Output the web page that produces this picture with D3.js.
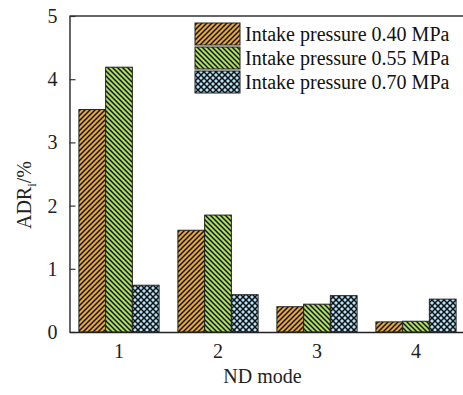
<!DOCTYPE html>
<html><head><meta charset="utf-8">
<script src="https://cdn.jsdelivr.net/npm/d3@7"></script>
<style>body{margin:0;background:#fff}svg{display:block}
svg text{font-family:"Liberation Serif","Times New Roman","DejaVu Serif",serif !important;}</style>
</head><body>
<svg id="c" width="463" height="395"></svg>
<script>
const categories = ["1","2","3","4"];
const seriesNames = ["Intake pressure 0.40 MPa","Intake pressure 0.55 MPa","Intake pressure 0.70 MPa"];
const p040 = [3.52, 1.61, 0.40, 0.16];
const p055 = [4.19, 1.85, 0.44, 0.17];
const p070 = [0.74, 0.59, 0.575, 0.52];
const yTicks = [0,1,2,3,4,5];
const seriesValues = [p040, p055, p070];

const svg = d3.select("#c");
const L = 69.5, R = 465.5, T = 16, B = 332;

const defs = svg.append("defs");
function hatch(id, bg, dirs, size, sw){
  const p = defs.append("pattern").attr("id", id).attr("patternUnits","userSpaceOnUse")
    .attr("width", size).attr("height", size);
  p.append("rect").attr("width", size).attr("height", size).attr("fill", bg);
  dirs.forEach(d => {
    const s2 = d === "/" ?
      [[0,size,size,0],[-1,1,1,-1],[size-1,size+1,size+1,size-1]] :
      [[0,0,size,size],[-1,size-1,1,size+1],[size-1,-1,size+1,1]];
    s2.forEach(s => p.append("line").attr("x1",s[0]).attr("y1",s[1]).attr("x2",s[2]).attr("y2",s[3])
      .attr("stroke","#111").attr("stroke-width",sw));
  });
}
hatch("h0", "#e6a83c", ["/"], 5, 1.5);
hatch("h1", "#aee05e", ["\\"], 5, 1.5);
hatch("h2", "#b3e2f6", ["/","\\"], 6, 1.5);
const fills = ["url(#h0)","url(#h1)","url(#h2)"];

const x0 = d3.scaleBand().domain(categories).range([L, R]).paddingInner(0.19).paddingOuter(0.095);
const x1 = d3.scaleBand().domain([0,1,2]).range([0, x0.bandwidth()]);
const y = d3.scaleLinear().domain([0,5]).range([B, T]);

// bars
categories.forEach((c, i) => {
  seriesValues.forEach((vals, s) => {
    svg.append("rect")
      .attr("x", x0(c) + x1(s)).attr("width", x1.bandwidth())
      .attr("y", y(vals[i])).attr("height", y(0) - y(vals[i]))
      .attr("fill", fills[s]).attr("stroke", "#222").attr("stroke-width", 1);
  });
});

// axes
const yAxis = d3.axisLeft(y).tickValues(yTicks).tickFormat(d3.format("d"))
  .tickSizeInner(-6).tickSizeOuter(0).tickPadding(12);
const gy = svg.append("g").attr("transform", `translate(${L},0)`).call(yAxis);
gy.select(".domain").attr("stroke", "#333").attr("stroke-width", 1.5);
gy.selectAll(".tick line").attr("stroke", "#333").attr("stroke-width", 1.2);
gy.selectAll("text").attr("font-size", 20).attr("fill", "#222");

const xAxis = d3.axisBottom(x0).tickSize(0).tickPadding(12);
const gx = svg.append("g").attr("transform", `translate(0,${B})`).call(xAxis);
gx.select(".domain").attr("stroke", "#222").attr("stroke-width", 1.5);
gx.selectAll("text").attr("font-size", 20).attr("fill", "#222");

// top frame
svg.append("line").attr("x1", L).attr("x2", R).attr("y1", T).attr("y2", T)
  .attr("stroke", "#333").attr("stroke-width", 1.5);

// axis titles
svg.append("text").attr("x", (L + R) / 2 - 5).attr("y", 383).attr("text-anchor", "middle")
  .attr("font-size", 20).attr("fill", "#222").text("ND mode");
const yt = svg.append("text").attr("transform", "translate(31,195) rotate(-90)").attr("text-anchor", "middle")
  .attr("font-size", 20).attr("fill", "#222");
yt.append("tspan").text("ADR");
yt.append("tspan").attr("font-size", 13).attr("dy", 5).text("i");
yt.append("tspan").attr("dy", -5).text("/%");

// legend
seriesNames.forEach((n, s) => {
  const gy0 = 23 + s * 24;
  svg.append("rect").attr("x", 195).attr("y", gy0).attr("width", 45).attr("height", 22)
    .attr("fill", fills[s]).attr("stroke", "#222").attr("stroke-width", 1);
  svg.append("text").attr("x", 245).attr("y", gy0 + 18)
    .attr("font-size", 20).attr("fill", "#111").text(n);
});
</script>
</body></html>
